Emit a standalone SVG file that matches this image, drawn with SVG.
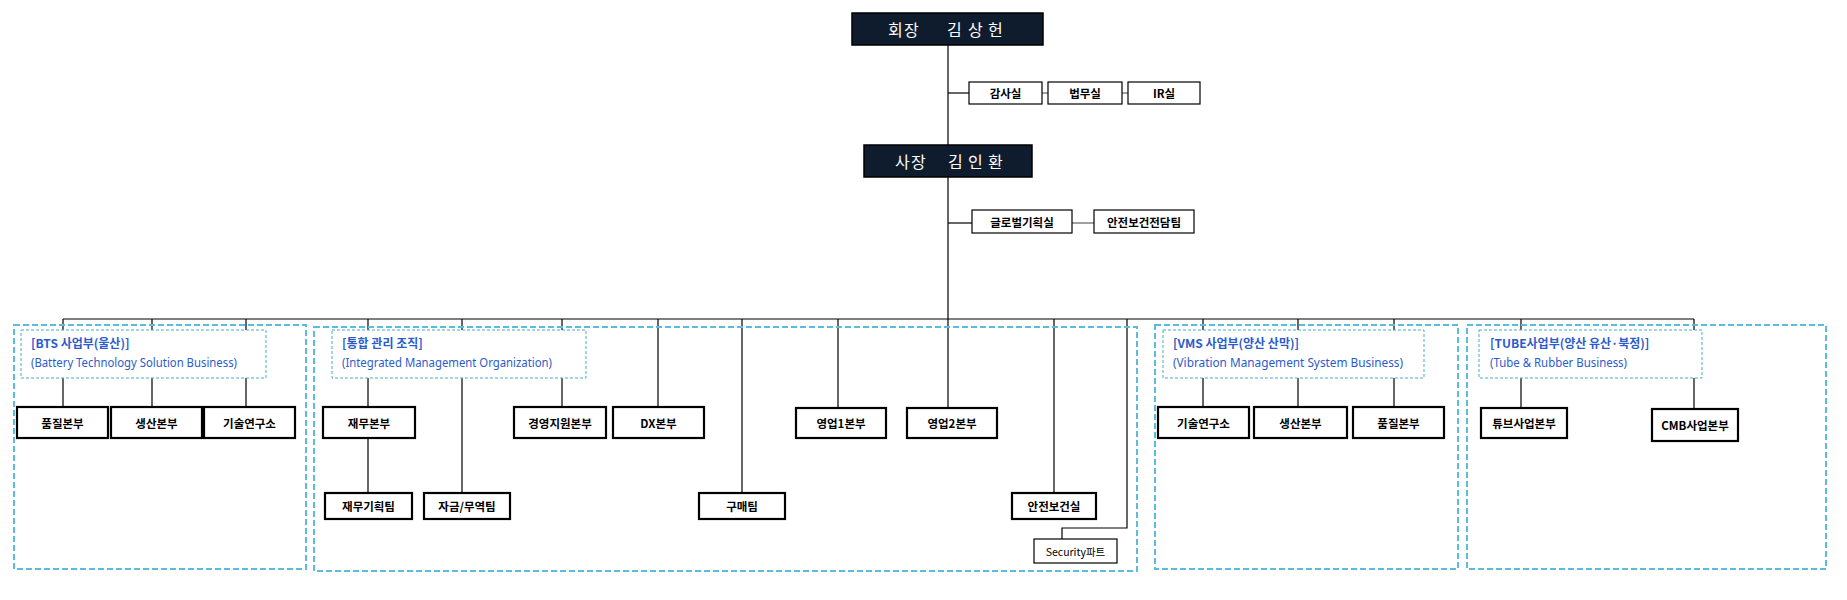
<svg xmlns="http://www.w3.org/2000/svg" width="1847" height="600" viewBox="0 0 1847 600">
<style>
.bg{fill:#ffffff}
.ln{stroke:#000;stroke-width:1.2;fill:none}
.lg{stroke:#808080;stroke-width:1.5;fill:none}
.outer{fill:none;stroke:#5bbcdc;stroke-width:2;stroke-dasharray:6 3}
.inner{fill:#fff;stroke:#4aaccc;stroke-width:1;stroke-dasharray:3 2}
.dark{fill:#0f1c2e;stroke:#000;stroke-width:1.5}
.thin{fill:#fff;stroke:#000;stroke-width:1.2}
.thick{fill:#fff;stroke:#000;stroke-width:2.2}
.tw{font-family:"Noto Sans CJK KR","Noto Sans",sans-serif;font-size:16px;fill:#fff;dominant-baseline:central}
.tb{font-family:"Noto Sans CJK KR","Noto Sans",sans-serif;font-size:11.5px;font-weight:bold;fill:#000;text-anchor:middle;dominant-baseline:central}
.ts{font-family:"Noto Sans CJK KR","Noto Sans",sans-serif;font-size:10.5px;fill:#000;text-anchor:middle;dominant-baseline:central}
.h1{font-family:"Noto Sans CJK KR","Noto Sans",sans-serif;font-size:12px;font-weight:bold;fill:#2b5ccc}
.h2{font-family:"Noto Sans","Noto Sans CJK KR",sans-serif;font-size:12px;fill:#2b5ccc}
</style>
<rect class="bg" x="0" y="0" width="1847" height="600"/>

<g id="connectors">
  <line class="ln" x1="948" y1="45" x2="948" y2="408"/>
  <line class="ln" x1="948" y1="93" x2="969" y2="93"/>
  <line class="lg" x1="1042" y1="93" x2="1048" y2="93"/>
  <line class="lg" x1="1122" y1="93" x2="1128" y2="93"/>
  <line class="ln" x1="948" y1="223" x2="972" y2="223"/>
  <line class="lg" x1="1072" y1="223" x2="1094" y2="223"/>
  <line class="ln" x1="63" y1="319" x2="1694" y2="319"/>
  <line class="ln" x1="63" y1="319" x2="63" y2="407"/>
  <line class="ln" x1="152" y1="319" x2="152" y2="407"/>
  <line class="ln" x1="246" y1="319" x2="246" y2="407"/>
  <line class="ln" x1="368" y1="319" x2="368" y2="493"/>
  <line class="ln" x1="462" y1="319" x2="462" y2="493"/>
  <line class="ln" x1="562" y1="319" x2="562" y2="407"/>
  <line class="ln" x1="658" y1="319" x2="658" y2="407"/>
  <line class="ln" x1="742" y1="319" x2="742" y2="493"/>
  <line class="ln" x1="838" y1="319" x2="838" y2="408"/>
  <line class="ln" x1="1054" y1="319" x2="1054" y2="493"/>
  <polyline class="ln" points="1127,319 1127,528 1062,528 1062,539"/>
  <line class="ln" x1="1203" y1="319" x2="1203" y2="407"/>
  <line class="ln" x1="1298" y1="319" x2="1298" y2="407"/>
  <line class="ln" x1="1394" y1="319" x2="1394" y2="407"/>
  <line class="ln" x1="1521" y1="319" x2="1521" y2="408"/>
  <line class="ln" x1="1694" y1="319" x2="1694" y2="409"/>
</g>

<g id="group-bts">
  <rect class="outer" x="14" y="325" width="292" height="244"/>
  <rect class="inner" x="21" y="330" width="245" height="48"/>
  <text class="h1" x="31" y="348">[BTS 사업부(울산)]</text>
  <text class="h2" x="31" y="367" textLength="206" lengthAdjust="spacingAndGlyphs">(Battery Technology Solution Business)</text>
</g>
<g id="group-mgmt">
  <rect class="outer" x="314" y="327" width="823" height="244"/>
  <rect class="inner" x="332" y="330" width="254" height="48"/>
  <text class="h1" x="342" y="348">[통합 관리 조직]</text>
  <text class="h2" x="342" y="367" textLength="210" lengthAdjust="spacingAndGlyphs">(Integrated Management Organization)</text>
</g>
<g id="group-vms">
  <rect class="outer" x="1155" y="325" width="303" height="244"/>
  <rect class="inner" x="1163" y="330" width="261" height="48"/>
  <text class="h1" x="1173" y="348">[VMS 사업부(양산 산막)]</text>
  <text class="h2" x="1173" y="367" textLength="230" lengthAdjust="spacingAndGlyphs">(Vibration Management System Business)</text>
</g>
<g id="group-tube">
  <rect class="outer" x="1467" y="325" width="359" height="244"/>
  <rect class="inner" x="1479" y="330" width="223" height="48"/>
  <text class="h1" x="1490" y="348">[TUBE사업부(양산 유산·북정)]</text>
  <text class="h2" x="1490" y="367" textLength="137" lengthAdjust="spacingAndGlyphs">(Tube &amp; Rubber Business)</text>
</g>

<g id="chairman">
  <rect class="dark" x="852" y="13" width="191" height="32"/>
  <text class="tw" x="888 904 947 968 988" y="29">회장김상헌</text>
</g>
<g id="audit"><rect class="thin" x="969" y="82" width="73" height="22"/><text class="tb" x="1005.5" y="93">감사실</text></g>
<g id="legal"><rect class="thin" x="1048" y="82" width="74" height="22"/><text class="tb" x="1085" y="93">법무실</text></g>
<g id="ir"><rect class="thin" x="1128" y="82" width="72" height="22"/><text class="tb" x="1164" y="93">IR실</text></g>

<g id="president">
  <rect class="dark" x="864" y="145" width="168" height="32"/>
  <text class="tw" x="895 911 948 968 988" y="161">사장김인환</text>
</g>
<g id="global"><rect class="thin" x="972" y="210" width="100" height="23"/><text class="tb" x="1022" y="221.5">글로벌기획실</text></g>
<g id="safety-team"><rect class="thin" x="1094" y="210" width="100" height="23"/><text class="tb" x="1144" y="221.5">안전보건전담팀</text></g>

<g id="bts-quality"><rect class="thick" x="17" y="407" width="91" height="31"/><text class="tb" x="62.5" y="422.5">품질본부</text></g>
<g id="bts-prod"><rect class="thick" x="111" y="407" width="91" height="31"/><text class="tb" x="156.5" y="422.5">생산본부</text></g>
<g id="bts-rnd"><rect class="thick" x="204" y="407" width="91" height="31"/><text class="tb" x="249.5" y="422.5">기술연구소</text></g>

<g id="finance"><rect class="thick" x="323" y="407" width="92" height="31"/><text class="tb" x="369" y="422.5">재무본부</text></g>
<g id="mgmt-support"><rect class="thick" x="514" y="407" width="92" height="31"/><text class="tb" x="560" y="422.5">경영지원본부</text></g>
<g id="dx"><rect class="thick" x="613" y="407" width="91" height="31"/><text class="tb" x="658.5" y="422.5">DX본부</text></g>
<g id="sales1"><rect class="thick" x="796" y="408" width="90" height="30"/><text class="tb" x="841" y="423">영업1본부</text></g>
<g id="sales2"><rect class="thick" x="907" y="408" width="90" height="30"/><text class="tb" x="952" y="423">영업2본부</text></g>

<g id="fin-plan"><rect class="thick" x="325" y="493" width="87" height="26"/><text class="tb" x="368.5" y="506">재무기획팀</text></g>
<g id="fund-trade"><rect class="thick" x="424" y="493" width="86" height="26"/><text class="tb" x="467" y="506">자금/무역팀</text></g>
<g id="purchase"><rect class="thick" x="699" y="493" width="86" height="26"/><text class="tb" x="742" y="506">구매팀</text></g>
<g id="safety-office"><rect class="thick" x="1012" y="493" width="84" height="26"/><text class="tb" x="1054" y="506">안전보건실</text></g>
<g id="security"><rect class="thin" x="1034" y="539" width="83" height="24"/><text class="ts" x="1075.5" y="551">Security파트</text></g>

<g id="vms-rnd"><rect class="thick" x="1158" y="407" width="91" height="31"/><text class="tb" x="1203.5" y="422.5">기술연구소</text></g>
<g id="vms-prod"><rect class="thick" x="1254" y="407" width="93" height="31"/><text class="tb" x="1300.5" y="422.5">생산본부</text></g>
<g id="vms-quality"><rect class="thick" x="1353" y="407" width="91" height="31"/><text class="tb" x="1398.5" y="422.5">품질본부</text></g>

<g id="tube-div"><rect class="thick" x="1481" y="408" width="86" height="30"/><text class="tb" x="1524" y="423">튜브사업본부</text></g>
<g id="cmb-div"><rect class="thick" x="1652" y="409" width="86" height="32"/><text class="tb" x="1695" y="425">CMB사업본부</text></g>
</svg>
